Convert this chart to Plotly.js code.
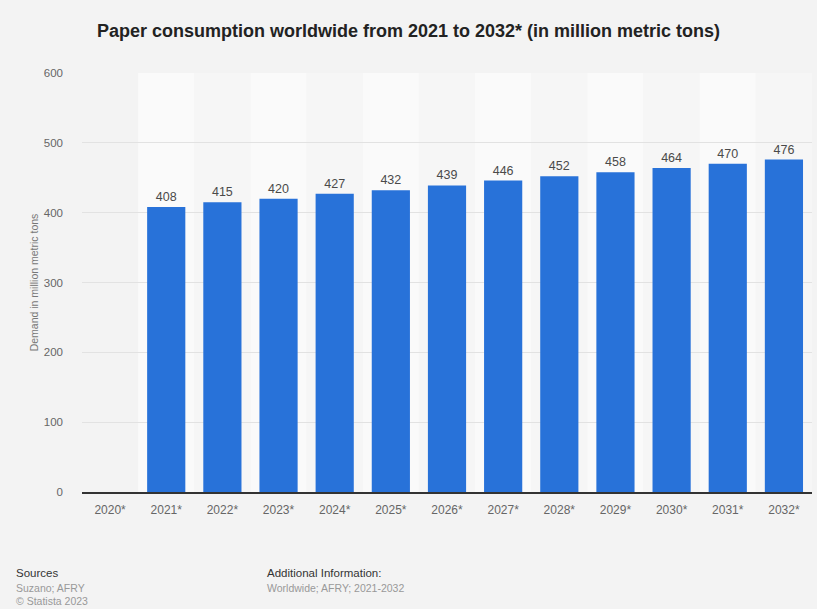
<!DOCTYPE html>
<html><head><meta charset="utf-8">
<script src="https://cdn.plot.ly/plotly-3.0.1.min.js"></script>
<style>html,body{margin:0;padding:0;background:#f3f3f3;}#chart{width:817px;height:609px;}</style>
</head><body><div id="chart"></div>
<script>
const categories = ["2020*","2021*","2022*","2023*","2024*","2025*","2026*","2027*","2028*","2029*","2030*","2031*","2032*"];
const demand = [null,408,415,420,427,432,439,446,452,458,464,470,476];
const yTicks = [0,100,200,300,400,500,600];

const shapes = categories.map((c,i)=>({
  type:'rect', layer:'below', xref:'x', yref:'paper',
  x0:i-0.5, x1:i+0.5, y0:0, y1:1, line:{width:0},
  fillcolor: i===0 ? '#f3f3f3' : (i%2===1 ? '#fafafa' : '#f6f6f6')
}));

const F = 'Arial, Liberation Sans, sans-serif';

const trace = {
  type:'bar', x:categories.map((c,i)=>i), y:demand,
  marker:{color:'#2872d9'},
  text:demand.map(v=>v===null?'':String(v)), textposition:'outside',
  textfont:{family:F, size:12.5, color:'#4a4a4a'},
  cliponaxis:false, hoverinfo:'none'
};

const layout = {
  width:817, height:609,
  paper_bgcolor:'#f3f3f3', plot_bgcolor:'#f3f3f3',
  margin:{l:82, r:5, t:73, b:117},
  bargap:0.32,
  showlegend:false,
  title:{text:'<b>Paper consumption worldwide from 2021 to 2032* (in million metric tons)</b>',
    font:{family:F, size:18, color:'#222'},
    x:0.5, xanchor:'center', y:0.95, yanchor:'middle'},
  xaxis:{tickmode:'array', tickvals:categories.map((c,i)=>i), ticktext:categories,
    range:[-0.5, categories.length-0.5], showgrid:false, zeroline:false,
    showline:true, linecolor:'#333', linewidth:1.5, ticks:'', ticklabelstandoff:6,
    tickfont:{family:F, size:12, color:'#666'}},
  yaxis:{range:[0,600], tickvals:yTicks, showgrid:true, gridcolor:'#e2e2e2', gridwidth:1,
    zeroline:false, showline:false, ticks:'', ticklabelstandoff:18,
    tickfont:{family:F, size:11.5, color:'#666'},
    title:{text:'Demand in million metric tons', standoff:3,
      font:{family:F, size:10.5, color:'#777'}}},
  shapes:shapes,
  annotations:[
    {xref:'paper',yref:'paper',x:-82/730,xshift:14,y:-81/419,xanchor:'left',yanchor:'middle',showarrow:false,
     text:'Sources',font:{family:F,size:11.5,color:'#333'}},
    {xref:'paper',yref:'paper',x:-82/730,xshift:14,y:-96/419,xanchor:'left',yanchor:'middle',showarrow:false,
     text:'Suzano; AFRY',font:{family:F,size:10.5,color:'#999'}},
    {xref:'paper',yref:'paper',x:-82/730,xshift:14,y:-109/419,xanchor:'left',yanchor:'middle',showarrow:false,
     text:'© Statista 2023',font:{family:F,size:10.5,color:'#999'}},
    {xref:'paper',yref:'paper',x:(265-82)/730,y:-81/419,xanchor:'left',yanchor:'middle',showarrow:false,
     text:'Additional Information:',font:{family:F,size:11.5,color:'#333'}},
    {xref:'paper',yref:'paper',x:(265-82)/730,y:-96/419,xanchor:'left',yanchor:'middle',showarrow:false,
     text:'Worldwide; AFRY; 2021-2032',font:{family:F,size:10.5,color:'#999'}}
  ]
};

Plotly.newPlot('chart',[trace],layout,{displayModeBar:false,staticPlot:true});
</script></body></html>
